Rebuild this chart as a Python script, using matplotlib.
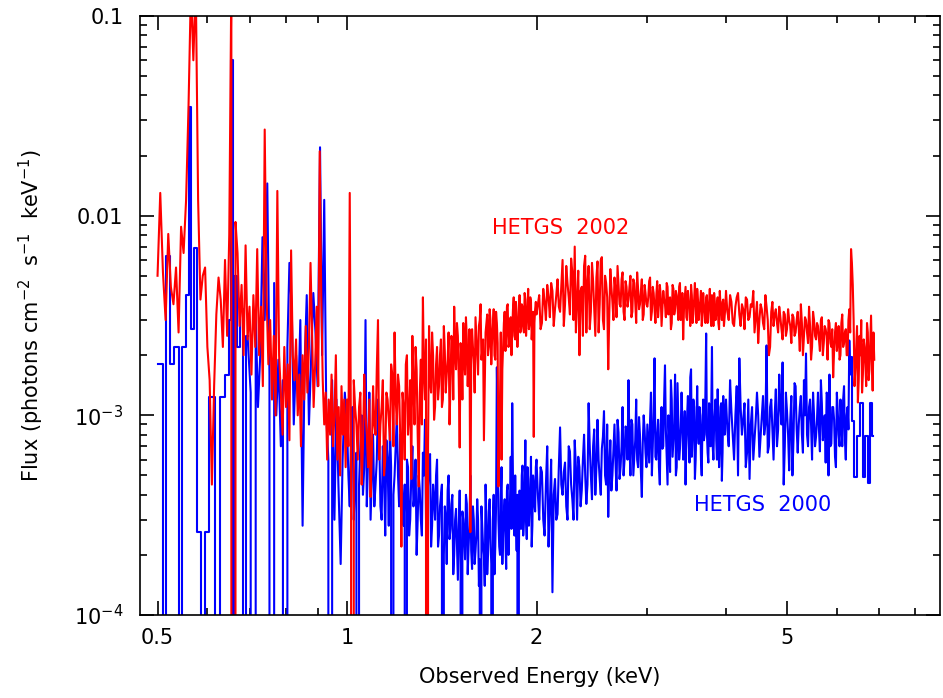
import numpy as np
import matplotlib.pyplot as plt
from matplotlib.ticker import FixedLocator, FixedFormatter, NullFormatter

# HETGS 2002 spectrum (red); energies in keV, flux in 1e-3 photons cm^-2 s^-1 keV^-1
red_e1 = [0.500, 0.505, 0.510, 0.515, 0.520, 0.525, 0.530, 0.535, 0.540, 0.545,
          0.550, 0.555, 0.560, 0.565, 0.570, 0.575, 0.580, 0.585, 0.590, 0.595,
          0.600, 0.605, 0.610, 0.615, 0.620, 0.625, 0.630, 0.635, 0.640, 0.645,
          0.650, 0.655, 0.660, 0.665, 0.670, 0.675, 0.680, 0.685, 0.690, 0.695,
          0.700, 0.705, 0.710, 0.715, 0.720, 0.725, 0.730, 0.735, 0.740, 0.745,
          0.750, 0.755, 0.760, 0.765, 0.770, 0.775, 0.780, 0.785, 0.790, 0.795,
          0.800, 0.805, 0.810, 0.815, 0.820, 0.825, 0.830, 0.835, 0.840, 0.845,
          0.850, 0.855, 0.860, 0.865, 0.870, 0.875, 0.880, 0.885, 0.890, 0.895,
          0.900, 0.905, 0.910, 0.915, 0.920, 0.925, 0.930, 0.935, 0.940, 0.945,
          0.950, 0.955, 0.960, 0.965, 0.970, 0.975, 0.980, 0.985, 0.990, 0.995]
red_f1 = [5.0, 13, 5.2, 3.0, 8.1, 4.4, 3.6, 5.5, 2.6, 8.8,
          6.5, 11.9, 35, 140, 60, 150, 12, 3.8, 5.0, 5.5,
          2.2, 1.5, 0.45, 1.4, 3.2, 4.9, 3.8, 2.2, 6.0, 2.5,
          8.0, 150, 0, 9.3, 6.5, 2.8, 4.5, 2.0, 7.1, 2.4,
          3.5, 1.6, 4.0, 2.2, 6.8, 2.0, 3.5, 1.4, 27, 4.0,
          1.8, 3.0, 1.2, 2.5, 1.0, 13.3, 2.0, 1.3, 0.8, 2.2,
          1.1, 1.8, 0.75, 6.7, 2.0, 1.5, 2.4, 1.0, 1.6, 0.7,
          2.0, 1.2, 2.8, 1.3, 2.2, 5.8, 2.6, 1.1, 1.8, 3.5,
          1.4, 21, 4.0, 1.5, 0.9, 1.3, 0.6, 1.2, 0.8, 1.6,
          0.7, 1.0, 2.0, 0.6, 1.1, 0.5, 1.4, 0.8, 1.2, 0.55]

# bins above 1 keV, shared by both spectra
bin_e2 = [1.00, 1.01, 1.02, 1.03, 1.04, 1.05, 1.06, 1.07, 1.08, 1.09,
          1.10, 1.11, 1.12, 1.13, 1.14, 1.15, 1.16, 1.17, 1.18, 1.19,
          1.20, 1.21, 1.22, 1.23, 1.24, 1.25, 1.26, 1.27, 1.28, 1.29,
          1.30, 1.31, 1.32, 1.33, 1.34, 1.35, 1.36, 1.37, 1.38, 1.39,
          1.40, 1.41, 1.42, 1.43, 1.44, 1.45, 1.46, 1.47, 1.48, 1.49,
          1.50, 1.51, 1.52, 1.53, 1.54, 1.55, 1.56, 1.57, 1.58, 1.59,
          1.60, 1.61, 1.62, 1.63, 1.64, 1.65, 1.66, 1.67, 1.68, 1.69,
          1.70, 1.71, 1.72, 1.73, 1.74, 1.75, 1.76, 1.77, 1.78, 1.79,
          1.80, 1.81, 1.82, 1.83, 1.84, 1.85, 1.86, 1.87, 1.88, 1.89,
          1.90, 1.91, 1.92, 1.93, 1.94, 1.95, 1.96, 1.97, 1.98, 1.99]
mid_e2 = [1.005, 1.015, 1.025, 1.035, 1.045, 1.055, 1.065, 1.075, 1.085, 1.095,
          1.105, 1.115, 1.125, 1.135, 1.145, 1.155, 1.165, 1.175, 1.185, 1.195,
          1.205, 1.215, 1.225, 1.235, 1.245, 1.255, 1.265, 1.275, 1.285, 1.295,
          1.305, 1.315, 1.325, 1.335, 1.345, 1.355, 1.365, 1.375, 1.385, 1.395,
          1.405, 1.415, 1.425, 1.435, 1.445, 1.455, 1.465, 1.475, 1.485, 1.495,
          1.505, 1.515, 1.525, 1.535, 1.545, 1.555, 1.565, 1.575, 1.585, 1.595,
          1.605, 1.615, 1.625, 1.635, 1.645, 1.655, 1.665, 1.675, 1.685, 1.695,
          1.705, 1.715, 1.725, 1.735, 1.745, 1.755, 1.765, 1.775, 1.785, 1.795,
          1.805, 1.815, 1.825, 1.835, 1.845, 1.855, 1.865, 1.875, 1.885, 1.895,
          1.905, 1.915, 1.925, 1.935, 1.945, 1.955, 1.965, 1.975, 1.985, 1.995]
bin_e3 = [2.00, 2.02, 2.04, 2.06, 2.08, 2.10, 2.12, 2.14, 2.16, 2.18,
          2.20, 2.22, 2.24, 2.26, 2.28, 2.30, 2.32, 2.34, 2.36, 2.38,
          2.40, 2.42, 2.44, 2.46, 2.48, 2.50, 2.52, 2.54, 2.56, 2.58,
          2.60, 2.62, 2.64, 2.66, 2.68, 2.70, 2.72, 2.74, 2.76, 2.78,
          2.80, 2.82, 2.84, 2.86, 2.88, 2.90, 2.92, 2.94, 2.96, 2.98,
          3.00, 3.02, 3.04, 3.06, 3.08, 3.10, 3.12, 3.14, 3.16, 3.18,
          3.20, 3.22, 3.24, 3.26, 3.28, 3.30, 3.32, 3.34, 3.36, 3.38,
          3.40, 3.42, 3.44, 3.46, 3.48, 3.50, 3.52, 3.54, 3.56, 3.58,
          3.60, 3.62, 3.64, 3.66, 3.68, 3.70, 3.72, 3.74, 3.76, 3.78,
          3.80, 3.82, 3.84, 3.86, 3.88, 3.90, 3.92, 3.94, 3.96, 3.98]
mid_e3 = [2.01, 2.03, 2.05, 2.07, 2.09, 2.11, 2.13, 2.15, 2.17, 2.19,
          2.21, 2.23, 2.25, 2.27, 2.29, 2.31, 2.33, 2.35, 2.37, 2.39,
          2.41, 2.43, 2.45, 2.47, 2.49, 2.51, 2.53, 2.55, 2.57, 2.59,
          2.61, 2.63, 2.65, 2.67, 2.69, 2.71, 2.73, 2.75, 2.77, 2.79,
          2.81, 2.83, 2.85, 2.87, 2.89, 2.91, 2.93, 2.95, 2.97, 2.99,
          3.01, 3.03, 3.05, 3.07, 3.09, 3.11, 3.13, 3.15, 3.17, 3.19,
          3.21, 3.23, 3.25, 3.27, 3.29, 3.31, 3.33, 3.35, 3.37, 3.39,
          3.41, 3.43, 3.45, 3.47, 3.49, 3.51, 3.53, 3.55, 3.57, 3.59,
          3.61, 3.63, 3.65, 3.67, 3.69, 3.71, 3.73, 3.75, 3.77, 3.79,
          3.81, 3.83, 3.85, 3.87, 3.89, 3.91, 3.93, 3.95, 3.97, 3.99]
bin_e4 = [4.00, 4.04, 4.08, 4.12, 4.16, 4.20, 4.24, 4.28, 4.32, 4.36,
          4.40, 4.44, 4.48, 4.52, 4.56, 4.60, 4.64, 4.68, 4.72, 4.76,
          4.80, 4.84, 4.88, 4.92, 4.96, 5.00, 5.04, 5.08, 5.12, 5.16,
          5.20, 5.24, 5.28, 5.32, 5.36, 5.40, 5.44, 5.48, 5.52, 5.56,
          5.60, 5.64, 5.68, 5.72, 5.76, 5.80, 5.84, 5.88, 5.92, 5.96,
          6.00, 6.04, 6.08, 6.12, 6.16, 6.20, 6.24, 6.28, 6.32, 6.36,
          6.40, 6.44, 6.48, 6.52, 6.56, 6.60, 6.64, 6.68, 6.72, 6.76,
          6.80, 6.84, 6.88]
mid_e4 = [4.02, 4.06, 4.10, 4.14, 4.18, 4.22, 4.26, 4.30, 4.34, 4.38,
          4.42, 4.46, 4.50, 4.54, 4.58, 4.62, 4.66, 4.70, 4.74, 4.78,
          4.82, 4.86, 4.90, 4.94, 4.98, 5.02, 5.06, 5.10, 5.14, 5.18,
          5.22, 5.26, 5.30, 5.34, 5.38, 5.42, 5.46, 5.50, 5.54, 5.58,
          5.62, 5.66, 5.70, 5.74, 5.78, 5.82, 5.86, 5.90, 5.94, 5.98,
          6.02, 6.06, 6.10, 6.14, 6.18, 6.22, 6.26, 6.30, 6.34, 6.38,
          6.42, 6.46, 6.50, 6.54, 6.58, 6.62, 6.66, 6.70, 6.74, 6.78,
          6.82, 6.86]

red_f2 = [1.2, 13, 0, 1.1, 0.6, 1.3, 0.7, 1.0, 0.55, 0.39,
          1.4, 0.8, 3.0, 0.9, 1.5, 0.6, 1.2, 0.75, 1.6, 2.6,
          0.9, 1.4, 0.22, 1.1, 1.8, 0.8, 1.5, 2.5, 0.9, 1.7,
          0.44, 1.9, 3.9, 1.2, 0, 2.8, 1.3, 2.0, 1.1, 2.2,
          1.4, 2.4, 1.2, 2.1, 1.6, 2.6, 1.4, 2.3, 3.5, 1.7,
          2.5, 0.69, 2.0, 2.9, 1.6, 2.4, 1.9, 0.26, 2.7, 1.9,
          3.1, 2.0, 2.8, 3.6, 2.1, 0.75, 2.6, 3.2, 2.2, 3.0,
          2.4, 3.4, 1.9, 2.9, 0.44, 1.2, 0.6, 2.2, 3.3, 2.5,
          3.6, 2.3, 3.1, 2.6, 3.9, 2.4, 3.3, 2.8, 4.0, 2.7,
          3.5, 2.6, 3.8, 3.0, 4.3, 2.9, 3.7, 2.8, 0.78, 3.4]
red_f2b = [0.7, 0.5, 1.5, 0.9, 1.1, 0.45, 1.6, 0.8, 1.2, 0.65,
           0.9, 1.7, 0.6, 1.1, 0.5, 1.3, 0.95, 1.8, 0.7, 1.2,
           1.6, 0.75, 1.3, 0.6, 2.0, 1.0, 0.48, 1.4, 2.2, 0.8,
           1.3, 0.9, 1.6, 2.4, 0.7, 1.5, 2.6, 0.95, 1.8, 1.2,
           2.0, 1.1, 2.8, 1.3, 1.9, 0.9, 2.5, 1.2, 2.1, 2.9,
           1.5, 2.3, 1.2, 2.0, 3.1, 1.4, 2.7, 1.8, 2.2, 1.3,
           2.5, 1.6, 3.0, 1.9, 2.4, 1.4, 2.9, 2.0, 3.4, 1.8,
           2.8, 2.0, 3.3, 2.3, 0.9, 2.6, 1.7, 2.9, 2.1, 3.5,
           2.2, 3.0, 2.0, 3.4, 2.5, 3.7, 2.2, 3.1, 2.6, 3.6,
           2.8, 4.1, 2.5, 3.4, 2.7, 3.9, 2.4, 3.3, 2.9, 3.7]
red_f3 = [3.2, 4.0, 2.9, 3.7, 4.5, 3.1, 4.2, 3.4, 4.8, 3.3,
          6.0, 3.6, 4.6, 3.2, 5.2, 7.0, 3.8, 2.0, 4.4, 5.6,
          2.6, 5.6, 3.3, 4.7, 2.5, 5.9, 3.6, 6.2, 2.7, 4.6,
          1.7, 5.4, 3.7, 4.9, 3.1, 4.5, 3.5, 5.2, 3.0, 4.4,
          3.8, 5.0, 3.3, 4.6, 2.9, 4.3, 3.6, 4.8, 3.2, 4.1,
          3.5, 4.7, 3.0, 4.4, 3.4, 4.0, 3.1, 4.5, 2.8, 4.2,
          3.6, 4.6, 3.2, 3.9, 2.9, 4.3, 3.4, 4.0, 3.0, 4.6,
          3.3, 2.4, 3.9, 3.1, 4.2, 3.5, 4.5, 2.9, 3.8, 3.2,
          4.3, 3.0, 3.7, 2.8, 4.1, 3.3, 3.9, 2.9, 3.6, 3.1,
          4.0, 2.8, 3.7, 3.2, 3.9, 2.7, 3.6, 3.0, 3.8, 3.1]
red_f3b = [3.6, 2.7, 4.3, 3.0, 3.9, 4.6, 2.8, 4.0, 3.5, 4.4,
           2.8, 5.6, 3.9, 6.1, 3.0, 2.6, 5.3, 4.2, 2.5, 6.3,
           4.6, 2.7, 5.8, 3.4, 4.9, 2.6, 6.0, 3.0, 5.0, 3.9,
           3.2, 4.4, 3.0, 4.2, 5.6, 3.6, 4.8, 3.3, 4.7, 3.5,
           4.4, 3.1, 4.8, 3.7, 5.2, 3.4, 4.2, 3.0, 4.5, 3.6,
           3.9, 4.9, 3.3, 4.1, 2.9, 4.7, 3.6, 4.0, 3.4, 3.8,
           3.1, 4.4, 3.8, 2.7, 4.5, 3.2, 4.2, 3.5, 4.4, 3.0,
           4.1, 3.4, 4.4, 3.0, 3.7, 2.8, 4.0, 3.5, 4.6, 2.9,
           3.8, 3.4, 4.2, 3.1, 3.5, 2.9, 4.0, 3.4, 4.3, 2.8,
           3.5, 4.1, 3.0, 3.6, 2.9, 4.2, 3.3, 3.7, 2.8, 3.5]
red_f4 = [4.2, 3.0, 3.7, 2.8, 3.9, 3.2, 3.6, 2.7, 3.8, 3.1,
          3.5, 2.6, 3.7, 3.0, 3.4, 2.7, 3.5, 2.0, 3.3, 2.8,
          3.4, 2.6, 3.1, 2.4, 3.2, 2.7, 3.0, 2.3, 3.1, 2.6,
          3.3, 2.1, 2.9, 2.5, 3.0, 2.3, 2.8, 2.2, 3.0, 2.4,
          2.8, 2.1, 3.1, 2.3, 2.7, 1.9, 2.9, 2.2, 1.55, 2.6,
          2.1, 2.8, 2.0, 3.2, 2.3, 2.7, 2.0, 3.4, 6.8, 4.5,
          1.4, 2.2, 1.16, 2.5, 3.0, 1.6, 2.2, 1.4, 2.6, 1.7,
          3.16, 1.33, 1.9]
red_f4b = [3.3, 4.0, 2.9, 3.5, 4.1, 2.8, 3.4, 3.9, 3.0, 3.6,
           4.2, 3.1, 2.3, 3.6, 2.9, 4.0, 3.0, 2.2, 3.7, 3.2,
           2.9, 3.5, 2.7, 3.3, 2.5, 3.4, 2.8, 3.2, 2.5, 3.0,
           2.7, 3.6, 2.0, 3.1, 2.6, 3.5, 1.9, 3.3, 2.5, 2.9,
           2.4, 3.0, 2.0, 2.8, 2.5, 3.0, 2.3, 2.7, 2.1, 2.9,
           2.4, 1.9, 2.9, 2.2, 2.6, 2.0, 3.0, 2.6, 5.8, 3.0,
           1.7, 2.8, 1.5, 2.0, 1.3, 2.4, 1.8, 2.9, 1.5, 2.3,
           1.9, 2.6]

# HETGS 2000 spectrum (blue); coarse bins below 0.7 keV
blue_e0 = [0.500, 0.508, 0.514, 0.518, 0.527, 0.537, 0.544, 0.550, 0.558, 0.564,
           0.568, 0.574, 0.580, 0.591, 0.598, 0.611, 0.625, 0.633, 0.645, 0.652,
           0.656, 0.660, 0.665, 0.672, 0.680, 0.689, 0.695]
blue_f0 = [1.8, 1.8, 0, 6.3, 1.8, 2.2, 0, 2.2, 4.0, 35,
           2.7, 6.9, 0.26, 0, 0.26, 1.24, 0, 1.24, 1.6, 3.0,
           60, 0, 5.0, 2.2, 3.4, 0, 2.5]

blue_e1 = [0.703, 0.710, 0.716,
           0.722, 0.728, 0.734, 0.740, 0.747, 0.753, 0.760, 0.766, 0.772, 0.778,
           0.785, 0.791, 0.798, 0.804, 0.810, 0.817, 0.823, 0.830, 0.836, 0.843,
           0.850, 0.856, 0.863, 0.870, 0.877, 0.884, 0.891, 0.898, 0.906, 0.913,
           0.920, 0.927, 0.934, 0.940, 0.947, 0.955, 0.962, 0.969, 0.977, 0.984,
           0.992]
blue_f1 = [1.3, 0, 3.2,
           1.1, 2.0, 7.8, 3.0, 14.5, 1.6, 0, 4.6, 1.0, 1.9,
           0.7, 1.5, 0, 2.2, 5.8, 3.4, 0.9, 2.0, 1.1, 3.0,
           0.28, 1.7, 4.0, 0.9, 1.9, 4.1, 2.6, 1.4, 22, 2.0,
           12, 1.0, 0.6, 0, 1.5, 0.3, 1.2, 0.45, 0.18, 0.6,
           1.3]

blue_f2 = [0.9, 0.35, 1.1, 0.5, 0, 0.7, 0.4, 3.0, 0.6, 0.3,
           0.8, 0.45, 1.2, 0.35, 0.7, 0.25, 0.6, 0.9, 0, 0.5,
           1.0, 0.35, 0.6, 0.28, 0, 0.55, 0.3, 0.7, 0.4, 0.2,
           0.5, 0.3, 0.65, 0.95, 0.35, 0.55, 0.22, 0.45, 0.3, 0.6,
           0.25, 0.4, 0, 0.35, 0.18, 0.5, 0.27, 0.4, 0.2, 0.34,
           0.15, 0.42, 0, 0.3, 0.19, 0.36, 0.22, 0.5, 0.17, 0.3,
           0.21, 0.38, 0.14, 0, 0.28, 0.2, 0.45, 0.16, 0.33, 0.24,
           0, 0.4, 0.22, 1.74, 0.3, 0.2, 0.55, 0.26, 0.38, 0.17,
           0.45, 0.28, 0.62, 1.15, 0.33, 0.5, 0.21, 0, 0.42, 0.27,
           0.56, 0.3, 0.75, 0.24, 0.48, 0.35, 0.62, 0.28, 0.45, 0.33]
blue_f2b = [0.5, 0.8, 0.3, 0.65, 0.45, 1.0, 0.55, 0.35, 1.3, 0.5,
            0.35, 0.6, 0.8, 0.3, 0.5, 0.75, 0.28, 0.55, 0.4, 0.7,
            0.5, 0.8, 0.32, 0.45, 0.6, 0.25, 0.5, 0.35, 0.6, 0.3,
            0.42, 0.25, 0.5, 0.3, 0.45, 0.64, 0.28, 0.38, 0.5, 0.22,
            0.35, 0.45, 0.2, 0.3, 0.42, 0.24, 0.36, 0.16, 0.3, 0.22,
            0.28, 0.18, 0.33, 0.24, 0.4, 0.16, 0.28, 0.21, 0.35, 0.18,
            0.25, 0.3, 0.19, 0.35, 0.22, 0.14, 0.3, 0.2, 0.38, 0.18,
            0.3, 0.16, 0.35, 0.9, 0.22, 0.4, 0.18, 0.32, 0.24, 0.42,
            0.2, 0.36, 0.27, 0.48, 0.25, 0.3, 0.4, 0.2, 0.34, 0.5,
            0.25, 0.42, 0.3, 0.55, 0.28, 0.4, 0.22, 0.5, 0.36, 0.55]
blue_f3 = [0.6, 0.3, 0.52, 0.25, 0.7, 0.35, 0.13, 0.48, 0.32, 0.87,
           0.4, 0.58, 0.3, 0.66, 0.38, 0.75, 0.3, 0.55, 0.42, 0.8,
           0.36, 1.15, 0.5, 0.7, 0.4, 0.95, 0.48, 0.68, 1.05, 0.45,
           0.31, 0.75, 0.5, 0.9, 0.42, 0.82, 0.55, 1.1, 0.6, 0.85,
           1.5, 0.5, 0.9, 0.62, 1.2, 0.55, 0.8, 0.39, 1.0, 0.65,
           0.9, 0.58, 1.3, 0.7, 1.93, 0.6, 0.95, 0.45, 1.1, 0.7,
           1.78, 0.62, 1.0, 0.52, 1.2, 0.75, 1.6, 0.55, 0.95, 0.68,
           1.3, 0.6, 1.05, 0.75, 1.25, 0.58, 1.7, 0.8, 1.1, 0.6,
           1.4, 0.72, 1.0, 0.5, 1.2, 0.8, 2.57, 0.65, 1.15, 0.7,
           2.2, 0.6, 1.05, 0.75, 1.35, 0.55, 1.1, 0.47, 1.25, 0.8]
blue_f3b = [0.4, 0.55, 0.3, 0.45, 0.22, 0.6, 0.4, 0.3, 0.55, 0.45,
            0.52, 0.35, 0.7, 0.45, 0.3, 0.55, 0.62, 0.35, 0.6, 0.5,
            0.45, 0.7, 0.38, 0.85, 0.55, 0.6, 0.4, 0.78, 0.5, 0.9,
            0.55, 0.42, 0.68, 0.58, 0.95, 0.48, 0.7, 0.5, 0.88, 0.6,
            0.7, 0.95, 0.5, 0.75, 0.6, 0.98, 0.52, 0.72, 0.85, 0.55,
            0.72, 0.95, 0.5, 1.05, 0.62, 0.8, 0.55, 0.9, 0.68, 1.2,
            0.85, 0.45, 0.78, 1.5, 0.62, 0.9, 0.5, 1.45, 0.6, 0.88,
            0.95, 0.7, 0.45, 1.0, 0.75, 1.55, 0.62, 1.2, 0.48, 0.95,
            0.85, 1.1, 0.6, 0.9, 0.75, 1.3, 0.82, 0.58, 0.9, 1.05,
            0.7, 0.9, 1.2, 0.6, 0.85, 0.7, 1.15, 0.65, 0.95, 1.0]
blue_f4 = [1.2, 0.7, 1.05, 0.6, 1.4, 1.93, 0.8, 1.15, 0.65, 0.48,
           1.1, 0.75, 1.3, 0.62, 1.0, 0.8, 2.24, 0.7, 1.2, 0.6,
           1.35, 0.85, 1.1, 1.84, 0.7, 1.05, 0.53, 1.25, 0.75, 1.4,
           0.65, 1.1, 0.8, 1.5, 2.04, 0.7, 1.2, 0.6, 1.0, 0.78,
           1.3, 0.66, 1.15, 0.85, 0.58, 1.25, 1.6, 0.72, 1.1, 0.62,
           1.3, 0.8, 1.2, 0.7, 1.4, 0.6, 1.1, 2.37, 1.95]
blue_f4b = [0.85, 1.5, 0.8, 1.0, 0.5, 1.1, 0.95, 0.55, 1.2, 0.9,
            0.6, 0.95, 1.0, 0.78, 1.25, 0.9, 0.65, 1.1, 0.85, 1.0,
            0.7, 1.6, 0.9, 0.45, 1.3, 0.8, 0.95, 0.5, 1.45, 0.85,
            0.9, 1.25, 0.65, 1.0, 0.8, 1.1, 0.9, 1.3, 0.7, 0.95,
            0.85, 1.5, 0.75, 1.0, 1.3, 0.5, 0.7, 1.1, 0.95, 0.55,
            1.05, 0.7, 0.95, 1.2, 0.75, 1.0, 0.85, 1.6]
# sparse high-energy bins
blue_e5 = [6.32, 6.36, 6.42, 6.50, 6.58, 6.62, 6.70, 6.77, 6.80, 6.86]
blue_f5 = [1.95, 0.94, 0.49, 0.79, 1.15, 0.49, 0.79, 0.46, 1.15, 0.79]

x_ticks = [0.5, 1, 2, 5]
x_tick_labels = ["0.5", "1", "2", "5"]
x_minor = [0.6, 0.7, 0.8, 0.9, 3, 4, 6, 7, 8]
y_ticks = [1e-4, 1e-3, 1e-2, 0.1]
y_tick_labels = ["$10^{-4}$", "$10^{-3}$", "0.01", "0.1"]


def merge(energies, fluxes):
    e = np.concatenate(energies)
    f = np.concatenate(fluxes) * 1e-3
    order = np.argsort(e, kind="stable")
    return e[order], f[order]


red_e, red_f = merge([red_e1, bin_e2, mid_e2, bin_e3, mid_e3, bin_e4, mid_e4],
                     [red_f1, red_f2, red_f2b, red_f3, red_f3b, red_f4, red_f4b])
blue_e, blue_f = merge([blue_e0[-1:], blue_e1, bin_e2, mid_e2, bin_e3, mid_e3,
                        bin_e4[:len(blue_f4)], mid_e4[:len(blue_f4b)]],
                       [blue_f0[-1:], blue_f1, blue_f2, blue_f2b, blue_f3, blue_f3b,
                        blue_f4, blue_f4b])

plt.rcParams["font.family"] = "DejaVu Sans"
plt.rcParams["mathtext.fontset"] = "dejavusans"

fig = plt.figure(figsize=(9.43, 6.98), dpi=100)
ax = fig.add_axes([0.1485, 0.1189, 0.8483, 0.8582])
ax.set_xscale("log")
ax.set_yscale("log", nonpositive="clip")

blue = "#0000ff"
red = "#ff0000"
lw = 1.5
ax.plot(blue_e0, np.array(blue_f0) * 1e-3, drawstyle="steps-mid", color=blue, lw=lw)
ax.plot(blue_e, blue_f, color=blue, lw=lw)
ax.plot(blue_e5, np.array(blue_f5) * 1e-3, drawstyle="steps-mid", color=blue, lw=lw)
ax.plot(red_e, red_f, color=red, lw=lw)

ax.set_xlim(0.469, 8.75)
ax.set_ylim(1e-4, 0.1)

ax.xaxis.set_major_locator(FixedLocator(x_ticks))
ax.xaxis.set_major_formatter(FixedFormatter(x_tick_labels))
ax.xaxis.set_minor_locator(FixedLocator(x_minor))
ax.xaxis.set_minor_formatter(NullFormatter())
ax.yaxis.set_major_locator(FixedLocator(y_ticks))
ax.yaxis.set_major_formatter(FixedFormatter(y_tick_labels))
y_minor = [m * d for d in (1e-4, 1e-3, 1e-2) for m in range(2, 10)]
ax.yaxis.set_minor_locator(FixedLocator(y_minor))
ax.yaxis.set_minor_formatter(NullFormatter())

ax.tick_params(which="both", direction="in", top=True, right=True, width=1.2)
ax.tick_params(which="major", length=10, labelsize=15)
ax.tick_params(axis="x", which="major", pad=9)
ax.tick_params(axis="y", which="major", pad=12)
ax.tick_params(which="minor", length=5)
for s in ax.spines.values():
    s.set_linewidth(1.2)

ax.set_xlabel("Observed Energy (keV)", fontsize=15, labelpad=14)
ax.set_ylabel("Flux (photons cm$^{-2}$  s$^{-1}$  keV$^{-1}$)", fontsize=15, labelpad=20)

ax.text(1.70, 8.7e-3, "HETGS  2002", color=red, fontsize=15, ha="left", va="center")
ax.text(3.56, 3.55e-4, "HETGS  2000", color=blue, fontsize=15, ha="left", va="center")

fig.savefig("out.png", dpi=100)
